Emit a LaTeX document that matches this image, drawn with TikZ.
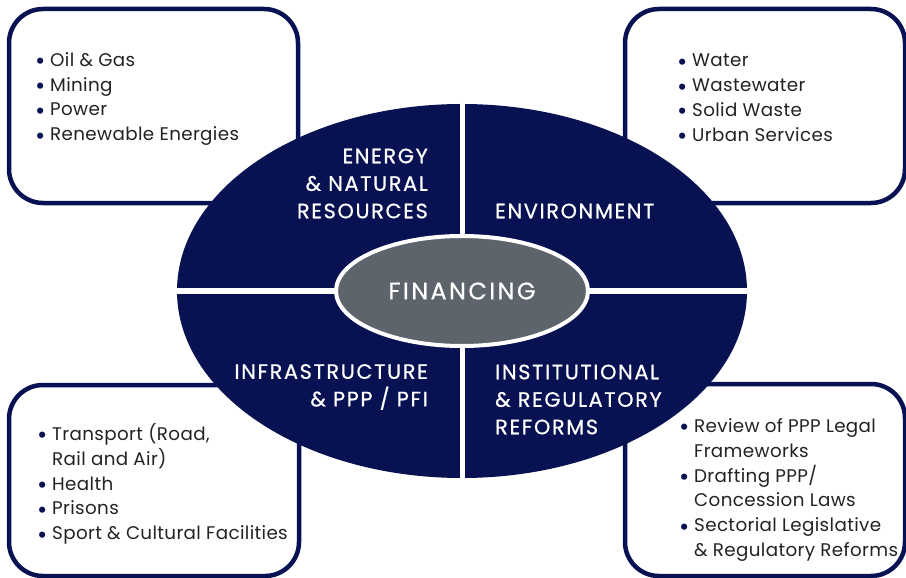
\documentclass[tikz,border=0pt]{standalone}
\usepackage{fontspec}
\setmainfont{Poppins}
\newfontfamily\capsfont[LetterSpace=8,FakeBold=0.7]{Poppins}
\newfontfamily\finfont[LetterSpace=10,FakeBold=0.5]{Poppins}
\newfontfamily\listfont[LetterSpace=2]{Poppins}
\usetikzlibrary{shapes.geometric}
\definecolor{navy}{RGB}{8,18,82}
\definecolor{fingray}{RGB}{94,100,107}
\definecolor{txtgray}{RGB}{35,35,38}
\newcommand\bul{\makebox[15pt][l]{\textcolor{navy}{\fontsize{25}{0}\selectfont\raisebox{-0.25ex}{•}}}}
\newcommand\hang{\hspace{15pt}}
\begin{document}
\begin{tikzpicture}[x=1pt,y=-1pt,
  box/.style={draw=navy, line width=4.5pt, rounded corners=34pt, fill=white, inner sep=0pt},
  list/.style={text=txtgray, align=left, font=\listfont\fontsize{18.3}{24.8}\selectfont, inner sep=0pt},
  quad/.style={text=white, font=\capsfont\fontsize{20.8}{27.5}\selectfont, inner sep=0pt},
]
\useasboundingbox[fill=white] (0,0) rectangle (906,578);
% outer boxes
\node[box, minimum width=289pt, minimum height=194pt] (boxTL) at (153.5,106) {};
\node[box, minimum width=280pt, minimum height=194pt] (boxTR) at (765,106) {};
\node[box, minimum width=290pt, minimum height=191pt] (boxBL) at (154,480.5) {};
\node[box, minimum width=280pt, minimum height=192pt] (boxBR) at (765,480) {};
% big ellipse
\node[ellipse, fill=navy, minimum width=570pt, minimum height=374pt, inner sep=0pt] (E) at (462,291) {};
\draw[white, line width=5pt] (E.north) -- (E.south);
\draw[white, line width=5.5pt] (E.west) -- (E.east);
\node[ellipse, fill=fingray, draw=white, line width=4pt, minimum width=252pt, minimum height=110pt, inner sep=0pt,
  text=white, font=\finfont\fontsize{24}{26}\selectfont] (F) at (462,291) {FINANCING};
% quadrant labels
\node[quad, align=right, anchor=east] (q1) at (428,183.5) {ENERGY\\ \& NATURAL\\ RESOURCES};
\node[quad, align=left, anchor=west] (q2) at (495,211) {ENVIRONMENT};
\node[quad, align=right, anchor=east] (q3) at (428,387) {INFRASTRUCTURE\\ \& PPP / PFI};
\node[quad, align=left, anchor=west] (q4) at (495,399.5) {INSTITUTIONAL\\ \& REGULATORY\\ REFORMS};
% lists
\node[list, anchor=west] (l1) at (35,99) {\bul Oil \& Gas\\ \bul Mining\\ \bul Power\\ \bul Renewable Energies};
\node[list, anchor=west] (l2) at (677,99.5) {\bul Water\\ \bul Wastewater\\ \bul Solid Waste\\ \bul Urban Services};
\node[list, anchor=west] (l3) at (37,484) {\bul Transport (Road,\\ \hang Rail and Air)\\ \bul Health\\ \bul Prisons\\ \bul Sport \& Cultural Facilities};
\node[list, anchor=west] (l4) at (679,490) {\bul Review of PPP Legal\\ \hang Frameworks\\ \bul Drafting PPP/\\ \hang Concession Laws\\ \bul Sectorial Legislative\\ \hang \& Regulatory Reforms};
\end{tikzpicture}
\end{document}
